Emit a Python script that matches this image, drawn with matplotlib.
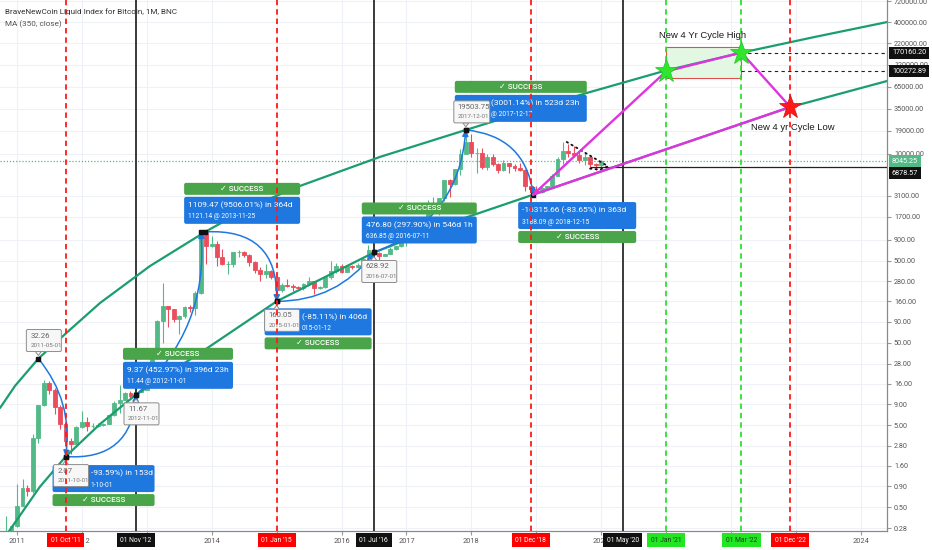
import datetime as dt
import numpy as np
import matplotlib
matplotlib.use("Agg")
import matplotlib.pyplot as plt
import matplotlib.transforms as mtransforms
from matplotlib.patches import FancyBboxPatch, FancyArrowPatch, Rectangle, Polygon
from matplotlib.ticker import NullLocator

plt.rcParams['font.family'] = ['Roboto', 'DejaVu Sans']

# ---------------- data ----------------
title = "BraveNewCoin Liquid Index for Bitcoin, 1M, BNC"
subtitle = "MA (350, close)"

first_month = (2010, 10)
open_first = 0.06
close = [0.19, 0.21, 0.30,
         0.52, 0.86, 0.78, 3.50, 8.70, 16.10, 13.40, 8.20, 5.10, 3.20, 2.97, 4.70,
         5.50, 4.90, 4.90, 5.00, 5.20, 6.70, 9.35, 10.10, 12.40, 11.20, 12.60, 13.50,
         20.40, 33.40, 93.0, 139.0, 129.0, 97.0, 106.0, 135.0, 133.0, 204.0, 1130.0, 755.0,
         800, 550, 450, 450, 630, 640, 580, 480, 390, 340, 378, 320,
         218, 254, 244, 236, 230, 263, 284, 230, 236, 314, 377, 430,
         368, 436, 416, 448, 531, 673, 624, 574, 608, 700, 745, 960,
         965, 1190, 1080, 1350, 2300, 2480, 2870, 4740, 4340, 6440, 10000, 13900,
         10100, 10300, 6900, 9250, 7500, 6400, 7730, 7000, 6620, 6330, 4000, 3700,
         3440, 3820, 4100, 5300, 8550, 10800, 10100, 9600, 8300, 9150, 7550, 7200,
         8045.25]
high = [0.19, 0.39, 0.30,
        0.95, 1.10, 0.94, 3.90, 8.90, 17.5, 17.0, 14.0, 8.70, 5.20, 3.50, 4.90,
        7.40, 6.20, 5.30, 5.30, 5.30, 6.70, 9.70, 15.4, 12.5, 13.0, 12.6, 13.8,
        20.4, 33.4, 95.0, 266.0, 140.0, 129.0, 110.0, 140.0, 146.0, 215.0, 1150.0, 1150.0,
        1000, 860, 700, 500, 630, 680, 650, 600, 490, 420, 460, 380,
        320, 265, 300, 260, 247, 267, 315, 285, 245, 330, 500, 470,
        460, 440, 440, 470, 550, 780, 680, 630, 610, 740, 755, 975,
        1150, 1200, 1300, 1350, 2760, 3000, 2920, 4750, 4990, 6470, 11500, 19500,
        17200, 11800, 11700, 9800, 9950, 7780, 8500, 7750, 7400, 7700, 6600, 4300,
        4100, 4200, 4100, 5600, 9100, 13900, 13200, 12300, 10950, 10500, 9500, 7750,
        8450]
low = [0.06, 0.19, 0.17,
       0.29, 0.52, 0.68, 0.75, 3.00, 8.50, 12.0, 6.90, 4.50, 2.07, 2.20, 2.80,
       4.60, 4.20, 4.60, 4.80, 4.90, 5.10, 6.50, 7.10, 10.0, 10.5, 10.3, 12.6,
       13.2, 19.6, 33.0, 50.0, 79.0, 89.0, 65.0, 100.0, 120.0, 110.0, 197.0, 450.0,
       740, 430, 440, 340, 420, 550, 560, 430, 350, 280, 310, 300,
       165, 210, 240, 215, 228, 220, 254, 198, 225, 235, 300, 350,
       350, 365, 395, 410, 440, 525, 610, 470, 570, 605, 680, 740,
       750, 920, 890, 1060, 1340, 2120, 1800, 2660, 2970, 4160, 5500, 10000,
       9100, 5900, 6600, 6400, 7050, 5760, 6100, 5850, 6100, 6200, 3500, 3150,
       3350, 3350, 3700, 4050, 5300, 7500, 9100, 9400, 7700, 7300, 6500, 6400,
       6850]

# regression-like bands
upper_band_x = [2010.74, 2010.97, 2011.33, 2011.76, 2012.28, 2013.05, 2013.90, 2014.59,
                2015.36, 2016.59, 2017.92, 2019.00, 2019.78, 2021.00, 2022.17, 2023.30, 2024.41]
upper_band_y = [8.1, 15.0, 32.26, 66, 153, 431, 1121.14, 2250, 4054, 9130, 19503.75,
                35800, 54850, 103000, 170000, 264000, 400000]
lower_band_x = [2010.78, 2010.89, 2011.35, 2011.75, 2012.28, 2012.83, 2013.82, 2015.00,
                2016.50, 2017.67, 2018.96, 2020.29, 2021.52, 2022.92, 2024.41]
lower_band_y = [0.20, 0.265, 0.883, 2.07, 5.16, 11.67, 37.7, 160.05, 628.92, 1437,
                3188.09, 7297, 15560, 37000, 76780]

# vertical date markers
vline_dates = ['2011-10-01', '2012-11-01', '2015-01-01', '2016-07-01', '2018-12-01',
               '2020-05-01', '2021-01-01', '2022-03-01', '2022-12-01']
vline_labels = ["01 Oct '11", "01 Nov '12", "01 Jan '15", "01 Jul '16", "01 Dec '18",
                "01 May '20", "01 Jan '21", "01 Mar '22", "01 Dec '22"]
vline_kinds = ['red', 'black', 'red', 'black', 'red', 'black', 'green', 'green', 'red']

# pivots (high/low labels)
pivot_dates = ['2011-05-01', '2011-10-01', '2012-11-01', '2015-01-01', '2016-07-01', '2017-12-01']
pivot_values = [32.26, 2.07, 11.67, 160.05, 628.92, 19503.75]

# arcs between pivots
arc_start_dates = ['2011-05-01', '2011-10-01', '2012-11-01', '2013-11-25', '2015-01-01', '2016-07-01', '2017-12-01']
arc_start_values = [32.26, 2.07, 11.67, 1121.14, 160.05, 628.92, 19503.75]
arc_end_dates = ['2011-10-01', '2012-11-01', '2013-11-01', '2015-01-01', '2016-07-01', '2017-12-01', '2018-12-15']
arc_end_values = [2.07, 11.67, 1121.14, 160.05, 628.92, 19503.75, 3188.09]

# measurement boxes (visible part of each line; the rest is hidden under the price labels)
measure_dates = ['2011-10-01', '2012-11-01', '2013-11-25', '2015-01-01', '2016-07-01', '2017-12-01', '2018-12-15']
measure_values = [2.07, 11.67, 1121.14, 160.05, 628.92, 19503.75, 3188.09]
measure_line1 = ["-93.59%) in 153d", "9.37 (452.97%) in 396d 23h", "1109.47 (9506.01%) in 364d",
                 "(-85.11%) in 406d", "476.80 (297.90%) in 546d 1h",
                 "(3001.14%) in 523d 23h", "-16315.66 (-83.65%) in 363d"]
measure_line2 = ["1-10-01", "11.44 @ 2012-11-01", "1121.14 @ 2013-11-25",
                 "015-01-12", "636.85 @ 2016-07-11", "@ 2017-12-17",
                 "3188.09 @ 2018-12-15"]
success_text = "\u2713 SUCCESS"

# projected cycle
cycle_dates = ['2018-12-15', '2021-01-01', '2022-03-01', '2022-12-01']
cycle_values = [3188.09, 100272.89, 170160.20, 37000]
zone_dates = ['2021-01-01', '2022-03-01']
zone_values = [83400, 199000]

# triangle after 2019 top
tri_upper_x = [2019.47, 2020.10]
tri_upper_y = [13900, 7100]
tri_lower_x = [2019.83, 2019.98, 2020.10]
tri_lower_y = [6600, 6400, 7000]

last_price = 8045.25
support_price = 6878.57
target_prices = [170160.20, 100272.89]

y_ticks = [0.28, 0.5, 0.9, 1.6, 2.8, 5, 9, 16, 28, 50, 90, 160, 280, 500, 900, 1700, 3100,
           10000, 19000, 35000, 65000, 120000, 220000, 400000, 720000]
x_ticks = list(range(2011, 2025))
x_tick_labels = ['2011', '2012', '', '2014', '', '2016', '2017', '2018', '', '2020',
                 '', '', '', '2024']


def yr(s):
    d = dt.datetime.strptime(s, '%Y-%m-%d')
    a = dt.datetime(d.year, 1, 1)
    b = dt.datetime(d.year + 1, 1, 1)
    return d.year + (d - a).total_seconds() / (b - a).total_seconds()


# ---------------- figure ----------------
W, H = 932, 550
fig = plt.figure(figsize=(W / 100, H / 100), dpi=100)
ax = fig.add_axes([0, 19 / H, 887 / W, 531 / H])
ax.set_yscale('log')
ax.set_xlim(2010.738, 2024.405)
ax.set_ylim(0.2575, 741000)
ax.set_axisbelow(True)

UP, DOWN = '#53b987', '#eb4d5c'
BAND = '#1b9e6e'
BLUE = '#1e78e0'
GREEN_BOX = '#4aa54a'

# grid / ticks
ax.set_xticks(x_ticks)
ax.set_xticklabels(x_tick_labels)
ax.set_yticks(y_ticks)
ax.set_yticklabels([f"{v:.2f}" for v in y_ticks])
ax.yaxis.set_minor_locator(NullLocator())
ax.xaxis.set_minor_locator(NullLocator())
ax.yaxis.tick_right()
ax.grid(True, color='#eef1f5', lw=0.8)
for s in ['left', 'top']:
    ax.spines[s].set_visible(False)
for s in ['right', 'bottom']:
    ax.spines[s].set_color('#8a8a8a')
    ax.spines[s].set_linewidth(0.9)
ax.tick_params(axis='y', direction='out', length=3, color='#999', labelsize=5.2,
               labelcolor='#555', pad=2)
ax.tick_params(axis='x', direction='out', length=3, color='#999', labelsize=5.3,
               labelcolor='#555', pad=2)

# candles
n = len(close)
opens = [open_first] + close[:-1]
cx = []
for i in range(n):
    m = first_month[1] - 1 + i
    cx.append(yr(f"{first_month[0] + m // 12}-{m % 12 + 1:02d}-01"))
cols = [UP if c >= o else DOWN for o, c in zip(opens, close)]
ax.vlines(cx, low, high, colors=cols, lw=0.8, zorder=2)
bottoms = [min(o, c) for o, c in zip(opens, close)]
heights = [abs(c - o) for o, c in zip(opens, close)]
ax.bar(cx, heights, bottom=bottoms, width=0.06, color=cols, edgecolor=cols, lw=0.6, zorder=2.1)

# bands
ax.plot(upper_band_x, upper_band_y, color=BAND, lw=1.6, zorder=3, solid_capstyle='round')
ax.plot(lower_band_x, lower_band_y, color=BAND, lw=1.6, zorder=3, solid_capstyle='round')

# horizontal lines
ax.axhline(last_price, color=UP, lw=0.9, ls=(0, (1, 1.5)), zorder=2.5)
ax.plot([2019.85, 2024.405], [support_price] * 2, color='#222', lw=0.9, zorder=3)
for p in target_prices:
    ax.plot([yr('2022-03-01'), 2024.405], [p, p], color='#222', lw=0.8, ls=(0, (3, 3)), zorder=3)

# vertical lines
vstyle = {'red': dict(color='#ff1a1a', lw=1.3, ls=(0, (3, 2.2)), zorder=7),
          'black': dict(color='#3a3a3a', lw=1.4, ls='-', zorder=2.6),
          'green': dict(color='#2ee02e', lw=1.3, ls=(0, (3, 2.2)), zorder=7)}
vbox = {'red': ('#ff0000', 'white'), 'black': ('#111111', 'white'), 'green': ('#22e622', '#1d3a1d')}
for d, lab, k in zip(vline_dates, vline_labels, vline_kinds):
    ax.axvline(yr(d), **vstyle[k])
    fc, tc = vbox[k]
    ax.annotate(lab, xy=(yr(d), 0), xycoords=('data', 'axes fraction'),
                xytext=(0, -5.5), textcoords='offset pixels', ha='center', va='top',
                fontsize=4.9, color=tc, annotation_clip=False, zorder=12,
                bbox=dict(boxstyle='square,pad=0.55', fc=fc, ec='none'))

# zone rectangle
z0, z1 = yr(zone_dates[0]), yr(zone_dates[1])
ax.add_patch(Rectangle((z0, zone_values[0]), z1 - z0, zone_values[1] - zone_values[0],
                       fc='#e3f8e3', ec='#e05050', lw=0.8, zorder=2.7))

# cycle projection
px_ = [yr(d) for d in cycle_dates] + [yr(cycle_dates[0])]
py_ = cycle_values + [cycle_values[0]]
ax.plot(px_, py_, color='#e033e0', lw=1.7, zorder=8, solid_joinstyle='round')
ax.plot(yr(cycle_dates[1]), cycle_values[1], marker='*', ms=17, mfc='#2ee62e', mec='#22c022', mew=0.5, zorder=9)
ax.plot(yr(cycle_dates[2]), cycle_values[2], marker='*', ms=17, mfc='#2ee62e', mec='#22c022', mew=0.5, zorder=9)
ax.plot(yr(cycle_dates[3]), cycle_values[3], marker='*', ms=17, mfc='#ff1a1a', mec='#d01010', mew=0.5, zorder=9)
ax.text(2021.57, 272000, "New 4 Yr Cycle High", ha='center', va='center', fontsize=6.8,
        family=['Liberation Sans', 'DejaVu Sans'], color='#1a1a1a', zorder=10)
ax.text(2022.96, 20600, "New 4 yr Cycle Low", ha='center', va='center', fontsize=6.8,
        family=['Liberation Sans', 'DejaVu Sans'], color='#1a1a1a', zorder=10)

# triangle
ax.plot(tri_upper_x, tri_upper_y, color='#111', lw=1.3, ls=(0, (0.8, 2.2)), zorder=4, dash_capstyle='round')
ax.plot(tri_lower_x, tri_lower_y, color='#111', lw=1.3, ls=(0, (0.8, 2.2)), zorder=4, dash_capstyle='round')

# arcs
arc_rads = [-0.22, 0.5, 0.25, -0.54, 0.25, 0.32, -0.39]
for sd, sv, ed, ev, r in zip(arc_start_dates, arc_start_values, arc_end_dates, arc_end_values, arc_rads):
    a = FancyArrowPatch((yr(sd), sv), (yr(ed), ev), connectionstyle=f'arc3,rad={r}',
                        arrowstyle='-|>,head_length=3.5,head_width=1.8', mutation_scale=1,
                        color=BLUE, lw=1.1, shrinkA=0, shrinkB=0, zorder=4)
    ax.add_patch(a)
sq_x = [yr(d) for d in arc_start_dates + arc_end_dates]
sq_y = arc_start_values + arc_end_values
ax.plot(sq_x, sq_y, 's', ms=2.2, color='#111', zorder=6.5, ls='none')


def off(xd, yd):
    return mtransforms.ScaledTranslation(xd, yd, ax.transData)


def pbox(xd, yd, x0, y0, x1, y1, fc, ec=None, lw=0.0, z=6, r=2.0):
    # offsets in pixels, y measured downward from the anchor
    ax.add_patch(FancyBboxPatch((x0, -y1), x1 - x0, y1 - y0,
                                boxstyle=f'round,pad=0,rounding_size={r}',
                                transform=off(xd, yd), fc=fc, ec=ec if ec else fc, lw=lw, zorder=z))


def ptext(xd, yd, dx, dy, s, **kw):
    ax.text(dx, -dy, s, transform=off(xd, yd), **kw)


# measurement boxes layout: (left, right, top, success above?, text start)
m_layout = [(-13, 89, 8.5, False, 25), (-13, 97, -33, True, -9), (-21, 95, -35, True, -17),
            (-12, 95, 7, False, 25.5), (-12, 103, -36, True, -8), (-11, 121, -35, True, 25.5),
            (-15, 103, 7.5, False, -11)]
for d, v, l1, l2, (L, R, T, above, tx) in zip(measure_dates, measure_values, measure_line1,
                                              measure_line2, m_layout):
    xd = yr(d)
    pbox(xd, v, L, T, R, T + 27, BLUE, z=6)
    ptext(xd, v, tx, T + 8.5, l1, fontsize=6.0, color='white', va='center', ha='left', zorder=6.1)
    ptext(xd, v, tx, T + 20, l2, fontsize=4.8, color='white', va='center', ha='left', zorder=6.1)
    if above:
        s0, s1 = T - 14, T - 2
    else:
        s0, s1 = T + 29, T + 41
    pbox(xd, v, L, s0, R, s1, GREEN_BOX, z=6)
    ptext(xd, v, (L + R) / 2, (s0 + s1) / 2, success_text, fontsize=5.8, color='white',
          va='center', ha='center', zorder=6.1, weight='medium')

# pivot labels: above (True) or below
p_above = [True, False, False, False, False, True]
for d, v, ab in zip(pivot_dates, pivot_values, p_above):
    xd = yr(d)
    wdt = 35 if v < 10000 else 36
    if ab:
        t0, t1 = -29, -7
        tri = [(-3, -7), (3, -7), (0, -3)]
    else:
        t0, t1 = 8, 30
        tri = [(-3, 8), (3, 8), (0, 4)]
    pbox(xd, v, -12, t0, -12 + wdt, t1, '#f7f7f7', ec='#8c8c8c', lw=0.7, z=6.3, r=1.5)
    ax.add_patch(Polygon([(a, -b) for a, b in tri], closed=True, transform=off(xd, v),
                         fc='#f7f7f7', ec='#8c8c8c', lw=0.7, zorder=6.2))
    ptext(xd, v, -8, t0 + 6, f"{v:.2f}", fontsize=5.6, color='#666', va='center', ha='left', zorder=6.4)
    ptext(xd, v, -8, t0 + 16, d, fontsize=4.5, color='#777', va='center', ha='left', zorder=6.4)

# right price labels
for p, fc, dy in [(170160.20, '#111', 0), (100272.89, '#111', 0), (last_price, UP, 0),
                  (support_price, '#111', -6)]:
    ax.annotate(f"{p:.2f}", xy=(1, p), xycoords=('axes fraction', 'data'),
                xytext=(5, dy), textcoords='offset pixels', ha='left', va='center',
                fontsize=5.2, color='white', annotation_clip=False, zorder=12,
                bbox=dict(boxstyle='square,pad=0.35', fc=fc, ec='none'))

# header
fig.text(5 / W, 1 - 12 / H, title, fontsize=5.9, color='#333', va='center', ha='left')
fig.text(5 / W, 1 - 24 / H, subtitle, fontsize=5.9, color='#555', va='center', ha='left')

fig.savefig('out.png', dpi=100)
